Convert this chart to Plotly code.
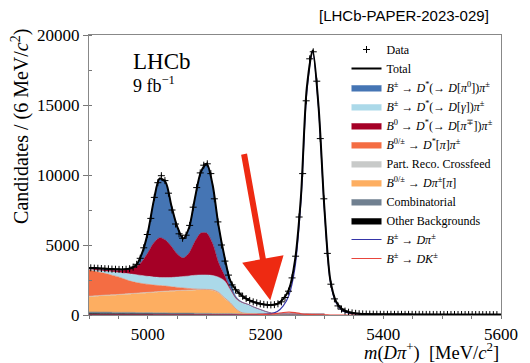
import numpy as np
import plotly.graph_objects as go

# ---------------- data ----------------
# histogram bin centres (6 MeV bins) and candidate counts
data_mass = list(range(4903, 5600, 6))
data_counts = [
    3370, 3350, 3340, 3320, 3310, 3300, 3280, 3270, 3260, 3250,
    3270, 3310, 3420, 3620, 4050, 4800, 5750, 6900, 8400, 9450,
    9950, 9600, 8700, 7500, 6500, 5800, 5480, 5700, 6400, 7700,
    9100, 10150, 10700, 10800, 10100, 8300, 6650, 5000, 3850, 2850,
    2150, 1800, 1560, 1340, 1170, 1040, 940, 870, 800, 760,
    730, 720, 740, 800, 940, 1250, 1700, 2650, 4200, 7000,
    10100, 15300, 18300, 18800, 16700, 12600, 8300, 4400, 2200, 1150,
    650, 420, 280, 200, 150, 120, 95, 80, 70, 65,
    60, 56, 52,
    50, 50, 49, 48, 48, 47, 46, 46, 45, 44,
    44, 43, 42, 42, 41, 40, 40, 39, 38, 38,
    37, 36, 36, 35, 34, 34, 33, 33, 32, 31,
    31, 30, 30,
]

# fit-component grid for the partially reconstructed backgrounds
bkg_mass = list(range(4900, 5301, 10))
other_bkg = [100, 100, 90, 90, 90, 80, 80, 80, 70, 70,
             70, 60, 60, 60, 50, 50, 50, 50, 40, 40,
             40, 30, 30, 30, 30, 20, 20, 20, 20, 20,
             20, 10, 10, 10, 10, 10, 10, 10, 10, 10, 10]
combinatorial = [120, 120, 120, 120, 110, 110, 110, 110, 110, 100,
                 100, 100, 100, 100, 90, 90, 90, 90, 90, 80,
                 80, 80, 80, 80, 80, 70, 70, 70, 70, 70,
                 60, 60, 60, 60, 60, 60, 50, 50, 50, 50, 50]
d_pi_pi = [1080, 1110, 1150, 1180, 1210, 1240, 1270, 1300, 1340, 1380,
           1410, 1450, 1480, 1510, 1550, 1570, 1590, 1610, 1640, 1660,
           1660, 1640, 1470, 1090, 740, 310, 50, 10, 0, 0,
           0, 0, 0, 0, 0, 0, 0, 0, 0, 0, 0]
crossfeed = [40, 40, 40, 40, 40, 40, 40, 40, 40, 40,
             40, 40, 40, 40, 40, 40, 40, 40, 40, 40,
             40, 40, 40, 40, 30, 20, 20, 10, 10, 10,
             10, 0, 0, 0, 0, 0, 0, 0, 0, 0, 0]
dst_pi_pi = [1890, 1750, 1630, 1510, 1380, 1250, 1070, 890, 760, 660,
             570, 490, 420, 360, 290, 220, 160, 100, 50, 20,
             10, 10, 0, 0, 0, 0, 0, 0, 0, 0,
             0, 0, 0, 0, 0, 0, 0, 0, 0, 0, 0]
dst_gamma = [50, 100, 130, 170, 250, 320, 410, 510, 560, 570,
             570, 570, 580, 600, 660, 740, 820, 900, 980, 1020,
             1030, 1020, 1080, 1210, 920, 730, 720, 640, 450, 300,
             160, 60, 20, 10, 0, 0, 0, 0, 0, 0, 0]
b0_dst_pim = [20, 60, 80, 100, 110, 140, 240, 370, 570, 1010,
              1690, 2440, 2840, 2680, 2220, 1640, 1320, 1640, 2410, 2990,
              2990, 2280, 1050, 400, 100, 50, 30, 20, 20, 10,
              10, 10, 0, 0, 0, 0, 0, 0, 0, 0, 0]
dst_pi0 = [60, 70, 90, 90, 90, 80, 40, 30, 100, 570,
           1450, 3000, 4230, 4150, 2900, 1950, 1390, 1800, 3100, 4350,
           4950, 4200, 2650, 1350, 550, 100, 20, 0, 0, 0,
           0, 0, 0, 0, 0, 0, 0, 0, 0, 0, 0]

# full-range grid for total fit and signal shapes
fit_mass = list(range(4900, 5601, 10))
total_fit = [3360, 3350, 3330, 3300, 3280, 3260, 3260, 3330, 3550, 4400,
             5900, 8150, 9750, 9500, 7800, 6300, 5460, 6230, 8350, 10200,
             10800, 9300, 6400, 4200, 2450, 1780, 1380, 1100, 920, 810,
             740, 720, 790, 1150, 1850, 3900, 8400, 16200, 18900, 14900,
             7600, 2500, 950, 420, 220, 130, 90, 70, 60, 55,
             50, 50, 48, 46, 45, 44, 42, 41, 40, 39,
             38, 37, 36, 35, 34, 33, 32, 31, 30, 30, 29]
sig_dpi = [0, 0, 0, 0, 0, 0, 0, 0, 0, 0,
           0, 0, 0, 0, 0, 0, 0, 0, 0, 0,
           0, 0, 0, 5, 5, 10, 10, 20, 30, 40,
           60, 100, 250, 650, 1450, 3400, 8100, 15900, 18800, 14800,
           7500, 2400, 850, 320, 140, 70, 40, 20, 10, 5,
           0, 0, 0, 0, 0, 0, 0, 0, 0, 0,
           0, 0, 0, 0, 0, 0, 0, 0, 0, 0, 0]
sig_dk = [0, 0, 0, 0, 0, 0, 0, 0, 0, 0,
          0, 0, 0, 0, 0, 0, 0, 0, 0, 0,
          0, 0, 0, 0, 0, 0, 5, 10, 15, 25,
          40, 70, 120, 180, 210, 170, 90, 40, 20, 10,
          5, 0, 0, 0, 0, 0, 0, 0, 0, 0,
          0, 0, 0, 0, 0, 0, 0, 0, 0, 0,
          0, 0, 0, 0, 0, 0, 0, 0, 0, 0, 0]

y_tick_vals = [0, 5000, 10000, 15000, 20000]
y_tick_text = ["0", "5000", "10000", "15000", "20000"]
x_tick_vals = [5000, 5200, 5400, 5600]
x_tick_text = ["5000", "5200", "5400", "5600"]

# ---------------- figure ----------------
SERIF = "Liberation Serif, DejaVu Serif, serif"
fig = go.Figure()

stack = [
    ("Other Backgrounds", other_bkg, "#000000", 10),
    ("Combinatorial", combinatorial, "#708090", 9),
    ("<i>B</i><sup>0/±</sup> → <i>Dπ</i><sup>±</sup>[<i>π</i>]", d_pi_pi, "#fdae61", 8),
    ("Part. Reco. Crossfeed", crossfeed, "#c8cac9", 7),
    ("<i>B</i><sup>0/±</sup> → <i>D</i><sup>*</sup>[<i>π</i>]<i>π</i><sup>±</sup>", dst_pi_pi, "#f46d43", 6),
    ("<i>B</i><sup>±</sup> → <i>D</i><sup>*</sup>(→ <i>D</i>[<i>γ</i>])<i>π</i><sup>±</sup>", dst_gamma, "#abd9e9", 4),
    ("<i>B</i><sup>0</sup> → <i>D</i><sup>*</sup>(→ <i>D</i>[<i>π</i><sup>∓</sup>])<i>π</i><sup>±</sup>", b0_dst_pim, "#a50026", 5),
    ("<i>B</i><sup>±</sup> → <i>D</i><sup>*</sup>(→ <i>D</i>[<i>π</i><sup>0</sup>])<i>π</i><sup>±</sup>", dst_pi0, "#4575b4", 3),
]
for name, vals, col, rank in stack:
    fig.add_trace(go.Scatter(
        x=bkg_mass, y=vals, name=name, stackgroup="bkg", mode="lines",
        line=dict(width=0.5, color=col, shape="spline", smoothing=0.8),
        fillcolor=col, legendrank=rank, hoverinfo="skip"))

fig.add_trace(go.Scatter(
    x=fit_mass, y=sig_dpi, mode="lines", name="<i>B</i><sup>±</sup> → <i>Dπ</i><sup>±</sup>",
    line=dict(color="#3535a8", width=1.2, shape="spline", smoothing=0.8), legendrank=11))
fig.add_trace(go.Scatter(
    x=fit_mass, y=sig_dk, mode="lines", name="<i>B</i><sup>±</sup> → <i>DK</i><sup>±</sup>",
    line=dict(color="#e8453c", width=1.2, shape="spline", smoothing=0.8), legendrank=12))
fig.add_trace(go.Scatter(
    x=fit_mass, y=total_fit, mode="lines", name="Total",
    line=dict(color="black", width=2, shape="spline", smoothing=0.8), legendrank=2))
fig.add_trace(go.Scatter(
    x=data_mass, y=data_counts, mode="markers", name="Data",
    marker=dict(symbol="cross-thin", size=5, color="black",
                line=dict(width=1, color="black")),
    error_y=dict(type="data", array=np.sqrt(data_counts), thickness=1, width=0, color="black"),
    legendrank=1))

fig.add_annotation(x=5208, y=1050, ax=5163, ay=11600, xref="x", yref="y",
                   axref="x", ayref="y", text="", showarrow=True,
                   arrowhead=2, arrowsize=1.4, arrowwidth=6, arrowcolor="#ee2a12")

fig.add_annotation(x=0.101, y=0.907, xref="paper", yref="paper", text="LHCb",
                   showarrow=False, xanchor="left", yanchor="middle",
                   font=dict(family=SERIF, size=23, color="black"))
fig.add_annotation(x=0.101, y=0.825, xref="paper", yref="paper", text="9 fb<sup>−1</sup>",
                   showarrow=False, xanchor="left", yanchor="middle",
                   font=dict(family=SERIF, size=18, color="black"))
fig.add_annotation(x=0.975, y=1.071, xref="paper", yref="paper", text="[LHCb-PAPER-2023-029]",
                   showarrow=False, xanchor="right", yanchor="middle",
                   font=dict(family="Liberation Sans, Arial, sans-serif", size=15, color="black"))
fig.add_annotation(x=1.0, y=-0.13, xref="paper", yref="paper",
                   text="<i>m</i>(<i>Dπ</i><sup>+</sup>)  [MeV/<i>c</i><sup>2</sup>]",
                   showarrow=False, xanchor="right", yanchor="middle",
                   font=dict(family=SERIF, size=18.5, color="black"))
fig.add_annotation(x=-0.168, y=1.03, xref="paper", yref="paper",
                   text="Candidates / (6 MeV/<i>c</i><sup>2</sup>)", textangle=-90,
                   showarrow=False, xanchor="center", yanchor="top",
                   font=dict(family=SERIF, size=20, color="black"))

fig.update_layout(
    width=530, height=363,
    margin=dict(l=89, r=19, t=35, b=48),
    paper_bgcolor="white", plot_bgcolor="white",
    showlegend=True,
    legend=dict(x=0.625, y=1.0, xanchor="left", yanchor="top", bgcolor="rgba(255,255,255,0)",
                font=dict(family=SERIF, size=12, color="black"), tracegroupgap=0,
                traceorder="normal", itemwidth=30),
    font=dict(family=SERIF, color="black"),
)
fig.update_xaxes(range=[4900, 5600], tickvals=x_tick_vals, ticktext=x_tick_text,
                 ticks="outside", ticklen=3, tickcolor="#777", showgrid=False, zeroline=False,
                 showline=True, linecolor="#888", linewidth=1.2, mirror=True,
                 tickfont=dict(family=SERIF, size=17),
                 minor=dict(dtick=50, ticks="outside", ticklen=3, tickcolor="#777"))
fig.update_yaxes(range=[0, 20000], tickvals=y_tick_vals, ticktext=y_tick_text,
                 ticks="outside", ticklen=5, tickcolor="#777", showgrid=False, zeroline=False,
                 showline=True, linecolor="#888", linewidth=1.2, mirror=True,
                 tickfont=dict(family=SERIF, size=17),
                 minor=dict(dtick=2500, ticks="inside", ticklen=3, tickcolor="#777"))

fig.write_html("out.html", config={"displayModeBar": False},
               post_script="document.body.style.margin='0';")
